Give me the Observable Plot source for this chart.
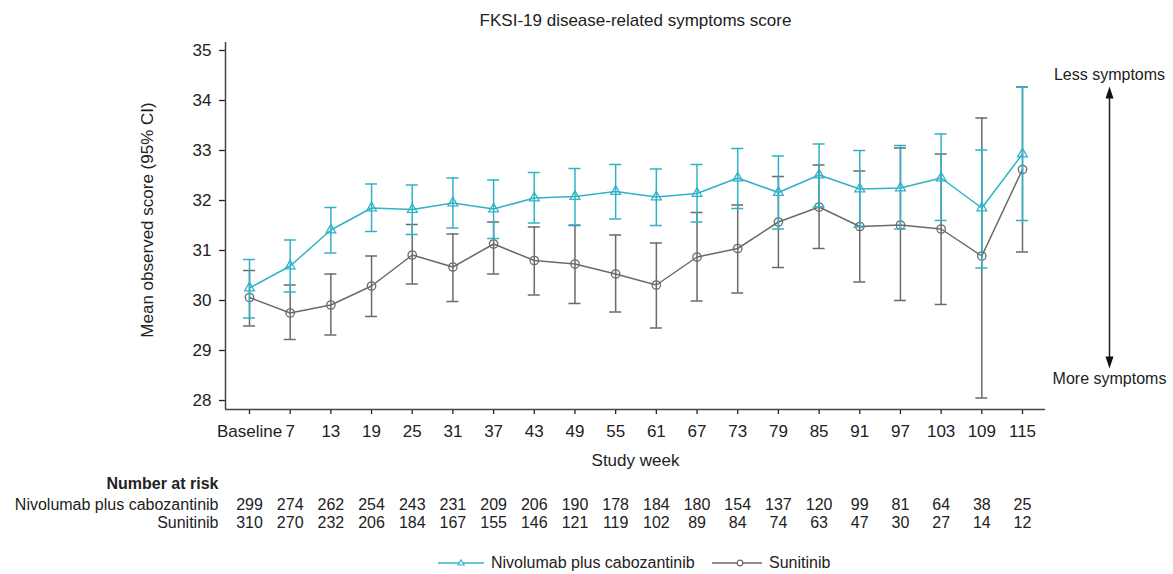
<!DOCTYPE html>
<html>
<head>
<meta charset="utf-8">
<script src="https://cdn.jsdelivr.net/npm/d3@7"></script>
<script src="https://cdn.jsdelivr.net/npm/@observablehq/plot@0.6"></script>
<style>
  html, body { margin: 0; padding: 0; background: #fff; }
  #wrap { width: 1173px; position: relative; font-family: "Liberation Sans", Arial, sans-serif; color: #222; }
  #legend { position: relative; height: 30px; font-size: 16px; }
  .item { position: absolute; top: 9px; height: 20px; display: flex; align-items: center; }
  .item svg { margin-right: 7px; }
</style>
</head>
<body>
<div id="wrap"></div>
<script>
// ---- data ----
const weeks = ["Baseline","7","13","19","25","31","37","43","49","55","61","67","73","79","85","91","97","103","109","115"];
const seriesNames = ["Nivolumab plus cabozantinib", "Sunitinib"];

const nivoMean  = [30.25,30.69,31.41,31.85,31.82,31.95,31.83,32.05,32.08,32.18,32.07,32.14,32.45,32.16,32.51,32.23,32.25,32.45,31.85,32.93];
const nivoLower = [29.65,30.17,30.95,31.38,31.32,31.45,31.24,31.55,31.51,31.63,31.50,31.57,31.84,31.43,31.87,31.47,31.43,31.60,30.65,31.60];
const nivoUpper = [30.82,31.21,31.86,32.33,32.31,32.45,32.41,32.56,32.64,32.72,32.63,32.72,33.04,32.89,33.13,33.00,33.10,33.33,33.01,34.27];

const suniMean  = [30.06,29.75,29.91,30.29,30.91,30.67,31.13,30.80,30.73,30.53,30.31,30.87,31.04,31.57,31.87,31.48,31.51,31.43,30.89,32.62];
const suniLower = [29.49,29.22,29.31,29.68,30.33,29.98,30.53,30.11,29.94,29.77,29.45,29.99,30.15,30.66,31.04,30.37,30.00,29.92,28.05,30.97];
const suniUpper = [30.60,30.31,30.53,30.89,31.52,31.33,31.57,31.47,31.50,31.31,31.15,31.76,31.91,32.48,32.71,32.59,33.05,32.93,33.65,34.27];

const nivoRisk = [299,274,262,254,243,231,209,206,190,178,184,180,154,137,120,99,81,64,38,25];
const suniRisk = [310,270,232,206,184,167,155,146,121,119,102,89,84,74,63,47,30,27,14,12];

const yTicks = [28,29,30,31,32,33,34,35];

// ---- build tables ----
const mk = (mean, lo, hi) => weeks.map((w, i) => ({week: w, mean: mean[i], lo: lo[i], hi: hi[i]}));
const nivo = mk(nivoMean, nivoLower, nivoUpper);
const suni = mk(suniMean, suniLower, suniUpper);
const riskN = weeks.map((w, i) => ({week: w, n: nivoRisk[i]}));
const riskS = weeks.map((w, i) => ({week: w, n: suniRisk[i]}));

const CYAN = "#2fb2c8";
const GRAY = "#6a6a6a";
const INK = "#222";

const arrowUp = {draw(c) { c.moveTo(0, -6); c.lineTo(4, 6); c.lineTo(-4, 6); c.closePath(); }};
const arrowDown = {draw(c) { c.moveTo(0, 6); c.lineTo(4, -6); c.lineTo(-4, -6); c.closePath(); }};

function series(data, color, symbol, r) {
  return [
    Plot.ruleX(data, {x: "week", y1: "lo", y2: "hi", stroke: color, strokeWidth: 1.5}),
    Plot.tickY(data, {x: "week", y: "lo", stroke: color, strokeWidth: 1.5}),
    Plot.tickY(data, {x: "week", y: "hi", stroke: color, strokeWidth: 1.5}),
    Plot.line(data, {x: "week", y: "mean", stroke: color, strokeWidth: 1.5}),
    Plot.dot(data, {x: "week", y: "mean", stroke: color, fill: "none", strokeWidth: 1.3, symbol, r})
  ];
}

const T = {lineAnchor: "middle"};

const chart = Plot.plot({
  width: 1173,
  height: 544,
  marginLeft: 225,
  marginRight: 128,
  marginTop: 42,
  marginBottom: 135,
  style: {fontFamily: "'Liberation Sans', Arial, sans-serif", fontSize: "17px", color: INK, background: "#fff", overflow: "visible"},
  x: {type: "band", domain: weeks, range: [243, 1028], paddingInner: 0.705, paddingOuter: 0, align: 0.5, round: false},
  y: {domain: [27.82, 35.16]},
  marks: [
    Plot.axisY({ticks: yTicks, tickSize: 6, tickPadding: 8, label: null, strokeWidth: 1.3}),
    Plot.axisX({tickSize: 5, tickPadding: 10, label: null, strokeWidth: 1.3}),
    Plot.ruleY([27.82], {stroke: "#444", strokeWidth: 1.5}),
    Plot.ruleX(["Baseline"], {x: d => d, dx: -24, stroke: "#444", strokeWidth: 1.5}),
    ...series(suni, GRAY, "circle", 4.2),
    ...series(nivo, CYAN, "triangle", 3.6),
    // title & axis labels
    Plot.text(["FKSI-19 disease-related symptoms score"], {...T, text: d => d, frameAnchor: "top", dy: -22, fontSize: 17}),
    Plot.text(["Mean observed score (95% CI)"], {...T, text: d => d, frameAnchor: "left", textAnchor: "middle", rotate: -90, dx: -78, dy: -6, fontSize: 17}),
    Plot.text(["Study week"], {...T, text: d => d, frameAnchor: "bottom", dy: 51, fontSize: 17}),
    // direction annotation
    Plot.text(["Less symptoms"], {...T, text: d => d, frameAnchor: "right", textAnchor: "middle", y: () => 34.52, dx: 64, fontSize: 16}),
    Plot.text(["More symptoms"], {...T, text: d => d, frameAnchor: "right", textAnchor: "middle", y: () => 28.44, dx: 64, fontSize: 16}),
    Plot.ruleX(["115"], {x: d => d, y1: () => 28.75, y2: () => 34.15, dx: 87, stroke: INK, strokeWidth: 1.5}),
    Plot.dot(["115"], {x: d => d, y: () => 34.16, dx: 87, symbol: arrowUp, fill: "#111", stroke: "none"}),
    Plot.dot(["115"], {x: d => d, y: () => 28.76, dx: 87, symbol: arrowDown, fill: "#111", stroke: "none"}),
    // number at risk table
    Plot.text(["Number at risk"], {...T, text: d => d, frameAnchor: "bottom-left", textAnchor: "end", dx: -7, dy: 74, fontSize: 16, fontWeight: "bold"}),
    Plot.text([seriesNames[0]], {...T, text: d => d, frameAnchor: "bottom-left", textAnchor: "end", dx: -7, dy: 95, fontSize: 16}),
    Plot.text([seriesNames[1]], {...T, text: d => d, frameAnchor: "bottom-left", textAnchor: "end", dx: -7, dy: 113, fontSize: 16}),
    Plot.text(riskN, {...T, x: "week", text: d => String(d.n), frameAnchor: "bottom", dy: 95, fontSize: 16}),
    Plot.text(riskS, {...T, x: "week", text: d => String(d.n), frameAnchor: "bottom", dy: 113, fontSize: 16})
  ]
});

const wrap = document.getElementById("wrap");
wrap.appendChild(chart);

// legend
const legend = document.createElement("div");
legend.id = "legend";
legend.innerHTML = `
  <div class="item" style="left:438px">
    <svg width="46" height="12"><line x1="0" x2="46" y1="6" y2="6" stroke="${CYAN}" stroke-width="1.5"/>
      <path d="M23,3 L26,8 L20,8 Z" fill="#fff" stroke="${CYAN}" stroke-width="1.2"/></svg>
    <span>${seriesNames[0]}</span>
  </div>
  <div class="item" style="left:712px">
    <svg width="50" height="12"><line x1="0" x2="50" y1="6" y2="6" stroke="${GRAY}" stroke-width="1.5"/>
      <circle cx="28" cy="6" r="2.8" fill="#fff" stroke="${GRAY}" stroke-width="1.2"/></svg>
    <span>${seriesNames[1]}</span>
  </div>`;
wrap.appendChild(legend);
</script>
</body>
</html>
